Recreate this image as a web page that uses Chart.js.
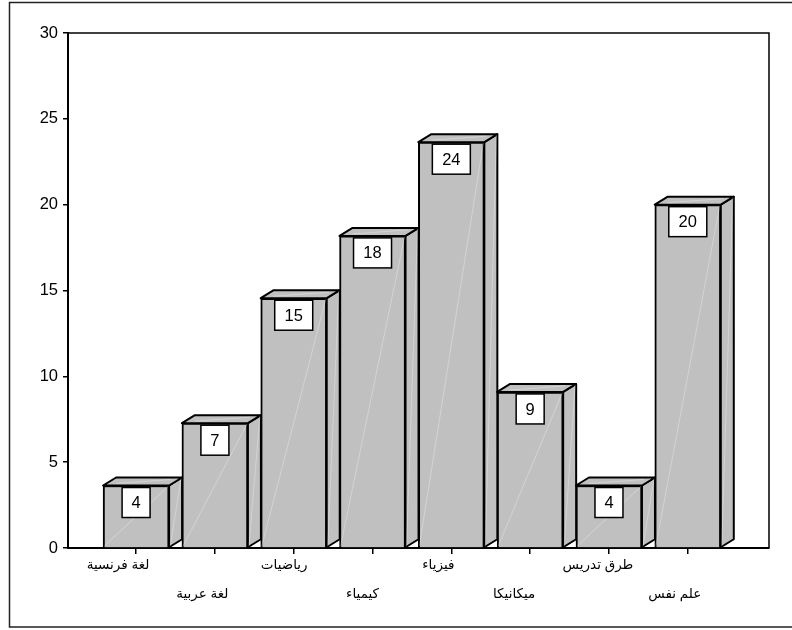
<!DOCTYPE html>
<html>
<head>
<meta charset="utf-8">
<script src="https://cdn.jsdelivr.net/npm/chart.js@4/dist/chart.umd.min.js"></script>
<style>
html, body { margin: 0; padding: 0; background: #fff; }
#chart { display: block; }
</style>
</head>
<body>
<div style="width:792px;height:630px"><canvas id="chart"></canvas></div>
<script>
var subjects = ['لغة فرنسية', 'لغة عربية', 'رياضيات', 'كيمياء', 'فيزياء', 'ميكانيكا', 'طرق تدريس', 'علم نفس'];
var shares = [3.64, 7.27, 14.55, 18.18, 23.64, 9.09, 3.64, 20];
var yTicks = [0, 5, 10, 15, 20, 25, 30];
// the axis text sits a little left of each tick, in pixels
var labelShift = [-18, -12.5, -9.5, -10, -13, -16, -11, -13];

var FONT = '"Liberation Sans", Arial, sans-serif';
var ARABIC_FONT = '"Liberation Sans", "DejaVu Sans", sans-serif';
var DEPTH_X = 13;
var DEPTH_Y = 8;
var STEP = 78.7;
var GREY = '#c0c0c0';

function streak(ctx, x1, y1, x2, y2) {
    ctx.save();
    ctx.strokeStyle = 'rgba(255,255,255,0.3)';
    ctx.lineWidth = 1;
    ctx.beginPath();
    ctx.moveTo(x1, y1);
    ctx.lineTo(x2, y2);
    ctx.stroke();
    ctx.restore();
}

function polygon(ctx, pts) {
    ctx.beginPath();
    ctx.moveTo(pts[0][0], pts[0][1]);
    for (var i = 1; i < pts.length; i++) ctx.lineTo(pts[i][0], pts[i][1]);
    ctx.closePath();
    ctx.fill();
    ctx.stroke();
}

// side and top faces go underneath the front of the bars
var bar3d = {
    id: 'bar3d',
    beforeDatasetsDraw: function (chart) {
        var ctx = chart.ctx;
        ctx.save();
        ctx.fillStyle = GREY;
        ctx.strokeStyle = '#000';
        ctx.lineWidth = 2;
        ctx.lineJoin = 'round';
        chart.getDatasetMeta(0).data.forEach(function (bar) {
            var l = bar.x - bar.width / 2, r = bar.x + bar.width / 2;
            var t = bar.y, b = bar.base;
            polygon(ctx, [[r, b], [r + DEPTH_X, b - DEPTH_Y], [r + DEPTH_X, t - DEPTH_Y], [r, t]]);
            polygon(ctx, [[l, t], [l + DEPTH_X, t - DEPTH_Y], [r + DEPTH_X, t - DEPTH_Y], [r, t]]);
            streak(ctx, r + 1, b - 1, r + DEPTH_X - 1, t - DEPTH_Y + 1);
            streak(ctx, l + DEPTH_X, t - 2, r + 2, t - DEPTH_Y + 2);
        });
        ctx.restore();
    },
    afterDatasetsDraw: function (chart) {
        var ctx = chart.ctx;
        var area = chart.chartArea;
        ctx.save();
        chart.getDatasetMeta(0).data.forEach(function (bar) {
            streak(ctx, bar.x - bar.width / 2 + 1, bar.base - 1, bar.x + bar.width / 2 - 1, bar.y + 1);
        });
        ctx.restore();

        // value boxes
        ctx.save();
        ctx.font = '16.5px ' + FONT;
        ctx.textAlign = 'center';
        ctx.textBaseline = 'middle';
        chart.getDatasetMeta(0).data.forEach(function (bar, i) {
            var text = String(Math.round(shares[i]));
            var w = text.length > 1 ? 38 : 28;
            var h = 30;
            ctx.fillStyle = '#fff';
            ctx.strokeStyle = '#000';
            ctx.lineWidth = 1.5;
            ctx.fillRect(bar.x - w / 2, bar.y + 2, w, h);
            ctx.strokeRect(bar.x - w / 2, bar.y + 2, w, h);
            ctx.fillStyle = '#000';
            ctx.fillText(text, bar.x, bar.y + 2 + h / 2 + 1);
        });
        ctx.restore();

        // plot frame and the page border, which runs off on the right
        ctx.save();
        ctx.strokeStyle = '#000';
        ctx.lineWidth = 1.5;
        ctx.beginPath();
        ctx.moveTo(area.left, area.top);
        ctx.lineTo(area.right, area.top);
        ctx.lineTo(area.right, area.bottom);
        ctx.stroke();
        ctx.lineWidth = 1.5;
        ctx.strokeStyle = '#222';
        ctx.beginPath();
        ctx.moveTo(792, 2.5);
        ctx.lineTo(9.5, 2.5);
        ctx.lineTo(9.5, 627);
        ctx.lineTo(792, 627);
        ctx.stroke();
        ctx.restore();
    }
};

new Chart(document.getElementById('chart'), {
    type: 'bar',
    data: {
        datasets: [{
            data: shares.map(function (v, i) { return { x: i, y: v }; }),
            backgroundColor: GREY,
            borderColor: '#000',
            borderWidth: 2,
            barThickness: 66
        }]
    },
    options: {
        responsive: true,
        maintainAspectRatio: false,
        animation: false,
        layout: { padding: { top: 33, right: 23, left: 0, bottom: 0 } },
        plugins: { legend: { display: false }, tooltip: { enabled: false } },
        scales: {
            // tick marks at the bar centres
            x: {
                type: 'linear',
                position: 'bottom',
                offset: false,
                bounds: 'data',
                min: -68 / STEP,
                max: 632 / STEP,
                afterBuildTicks: function (axis) {
                    axis.ticks = subjects.map(function (s, i) { return { value: i }; });
                },
                afterFit: function (axis) { axis.height = 3; },
                grid: { offset: false, drawOnChartArea: false, color: '#000', lineWidth: 1.5, tickLength: 6 },
                border: { color: '#000', width: 2 },
                ticks: { display: false }
            },
            // staggered category names
            names: {
                type: 'linear',
                axis: 'x',
                position: 'bottom',
                offset: false,
                bounds: 'data',
                min: -68 / STEP,
                max: 632 / STEP,
                afterBuildTicks: function (axis) {
                    axis.ticks = subjects.map(function (s, i) { return { value: i + labelShift[i] / STEP }; });
                },
                afterFit: function (axis) { axis.height = 79; },
                grid: { display: false, drawTicks: false, tickLength: 0 },
                border: { display: false },
                ticks: {
                    autoSkip: false,
                    maxRotation: 0,
                    color: '#000',
                    padding: 0,
                    font: { family: ARABIC_FONT, size: 13.5, lineHeight: '29px' },
                    callback: function (value, i) {
                        return i % 2 ? ['', subjects[i]] : subjects[i];
                    }
                }
            },
            y: {
                min: 0,
                max: 30,
                afterBuildTicks: function (axis) {
                    axis.ticks = yTicks.map(function (v) { return { value: v }; });
                },
                afterFit: function (axis) { axis.width = 68; },
                grid: { drawOnChartArea: false, color: '#000', lineWidth: 1.5, tickLength: 5 },
                border: { color: '#000', width: 2 },
                ticks: {
                    color: '#000',
                    padding: 5,
                    font: { family: FONT, size: 16.5 }
                }
            }
        }
    },
    plugins: [bar3d]
});
</script>
</body>
</html>
